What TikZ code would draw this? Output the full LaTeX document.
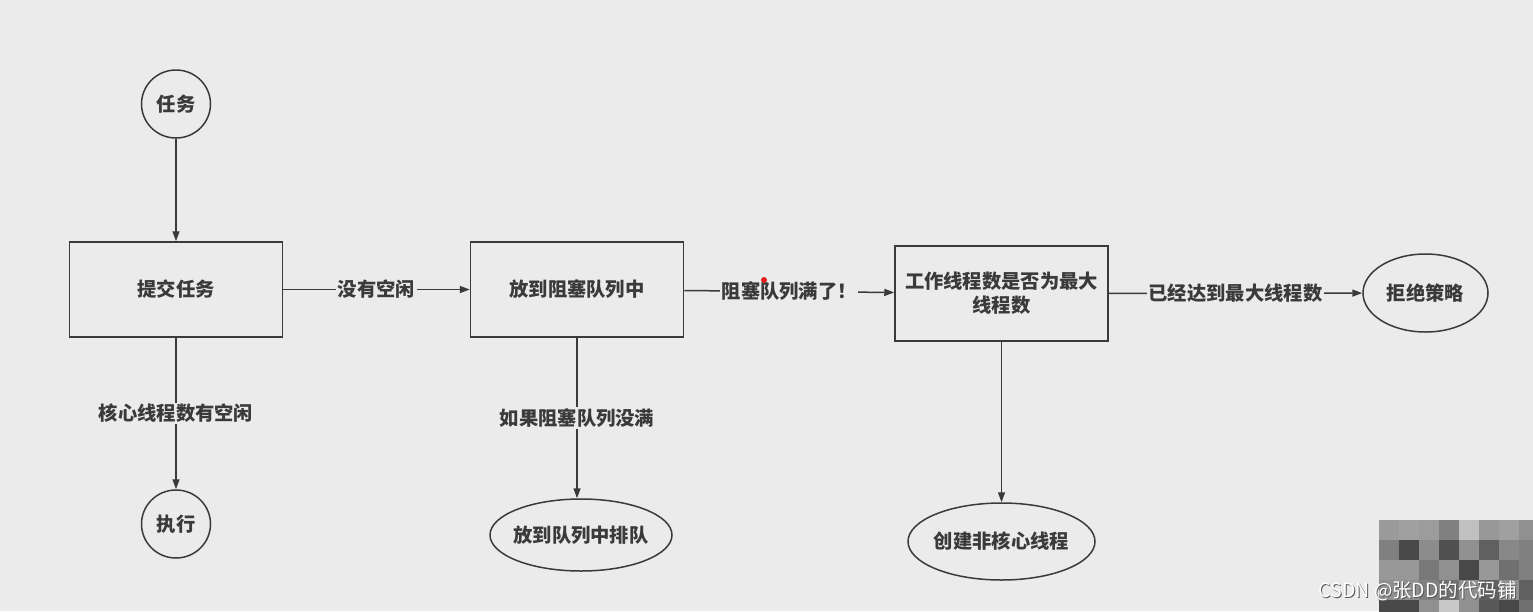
\documentclass[tikz,border=0pt]{standalone}
\usepackage{fontspec}
\setmainfont{Noto Sans CJK SC}
\usetikzlibrary{arrows.meta,shapes.geometric}
\definecolor{bg}{HTML}{EBEBEB}
\definecolor{ink}{HTML}{3A3A3A}
\definecolor{dotred}{HTML}{E02020}
\begin{document}
\begin{tikzpicture}[x=1pt,y=-1pt,
  every node/.style={font=\fontsize{19.3}{24}\selectfont\bfseries, text=ink},
  box/.style={draw=ink, line width=1.5pt, minimum width=213pt, minimum height=95pt, inner sep=0pt},
  oval/.style={draw=ink, line width=1.5pt, ellipse, inner xsep=-3.5pt, inner ysep=0pt},
  lbl/.style={fill=bg, inner sep=1.5pt},
  arr/.style={draw=ink, line width=1.5pt, -{Triangle[length=10pt,width=7pt]}},
  wm/.style={font=\fontsize{19.5}{22}\selectfont, inner sep=0pt, anchor=east}
]
\fill[bg] (0,0) rectangle (1533,611);
\useasboundingbox (0,0) rectangle (1533,611);

% nodes
\node[oval, minimum width=69pt, minimum height=68pt] (task) at (176,104) {任务};
\node[box] (submit) at (176,289.5) {提交任务};
\node[box] (queue) at (577,289.5) {放到阻塞队列中};
\node[box, align=center] (check) at (1001.5,293.5) {工作线程数是否为最大\\线程数};
\node[oval, minimum width=125pt, minimum height=78pt] (reject) at (1425.5,293) {拒绝策略};
\node[oval, minimum width=69pt, minimum height=68pt] (exec) at (176,524) {执行};
\node[oval, minimum width=182pt, minimum height=72pt] (enq) at (581,535) {放到队列中排队};
\node[oval, minimum width=187pt, minimum height=77pt] (create) at (1001.5,541.5) {创建非核心线程};

% connectors
\draw[arr] (task) -- (submit);
\draw[arr] (submit) -- node[lbl]{没有空闲} (queue);
\draw[arr] (submit) -- node[lbl]{核心线程数有空闲} (exec);
\draw[arr] (queue.south) -- node[lbl]{如果阻塞队列没满} (queue.south |- enq.north);
\draw[arr] (queue) -- node[lbl, pos=0.5]{阻塞队列满了！} (check);
\draw[arr] (check) -- node[lbl]{已经达到最大线程数} (reject);
\draw[arr] (check) -- (create);

% red cursor dot
\fill[dotred] (764,280) circle (3pt);

% mosaic
\begin{scope}
\clip (1379,520) rectangle (1533,611);
\foreach \row [count=\j from 0] in {
  {154,160,156,128,192,152,160,144},
  {128,72,140,80,144,96,136,128},
  {152,152,120,144,72,152,112,128},
  {144,144,128,112,144,96,144,96},
  {72,72,144,200,144,88,72,112}} {
  \foreach \c [count=\i from 0] in \row {
    \definecolor{mz}{RGB}{\c,\c,\c}
    \fill[mz] (1379+20*\i,520+20*\j) rectangle (1399+20*\i,540+20*\j);
  }
}
\end{scope}

% watermark
\node[wm, text=black!65] (wms) at (1518,592) {CSDN @张DD的代码铺};
\node[wm, text=white] (wmt) at (1517,591) {CSDN @张DD的代码铺};
\end{tikzpicture}
\end{document}
